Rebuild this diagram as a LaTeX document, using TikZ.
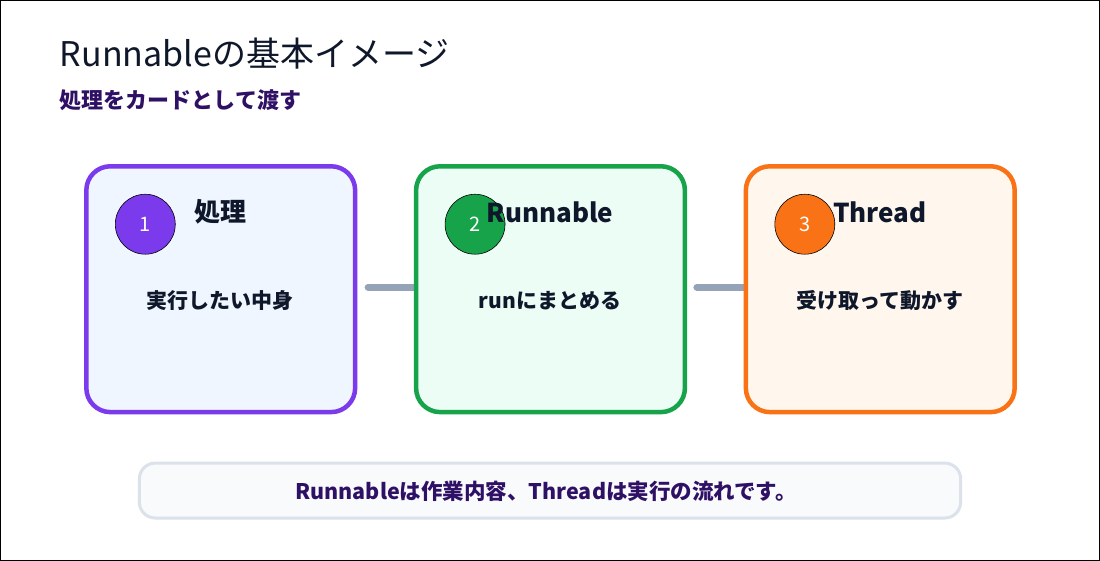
\documentclass[tikz,border=0pt]{standalone}
\usepackage{fontspec}
\setmainfont{Noto Sans CJK JP}
\begin{document}
\begin{tikzpicture}[x=1pt,y=-1pt,
 card/.style={line width=4.5pt,rounded corners=24pt},
 num/.style={circle,draw=black,line width=0.6pt,minimum size=60pt,inner sep=0pt,text=white,font=\fontsize{20}{20}\selectfont},
 ttl/.style={text=ink,font=\fontsize{26}{26}\selectfont\bfseries},
 sub/.style={text=ink,font=\fontsize{21}{21}\selectfont\bfseries},
 conn/.style={draw={rgb,255:red,148;green,163;blue,184},line width=7pt,line cap=round}]
\definecolor{ink}{HTML}{0F172A}
\definecolor{deep}{HTML}{2E1065}
\path[draw=black,line width=0.8pt,fill=white] (0,0) rectangle (1100,560);
\node[anchor=west,text=ink,font=\fontsize{34}{34}\selectfont] (title) at (56,53) {Runnableの基本イメージ};
\node[anchor=west,text=deep,font=\fontsize{22}{22}\selectfont\bfseries] (stitle) at (56,100) {処理をカードとして渡す};
\coordinate (c1) at (368,287); \coordinate (c2) at (416,287);
\coordinate (c3) at (697,287); \coordinate (c4) at (746,287);
\draw[conn] (c1) -- (c2); \draw[conn] (c3) -- (c4);
\draw[card,draw={rgb,255:red,124;green,58;blue,237},fill={rgb,255:red,239;green,246;blue,255}] (86,166) rectangle (355,412);
\draw[card,draw={rgb,255:red,22;green,163;blue,74},fill={rgb,255:red,236;green,253;blue,245}] (416,166) rectangle (685,412);
\draw[card,draw={rgb,255:red,249;green,115;blue,22},fill={rgb,255:red,255;green,247;blue,237}] (746,166) rectangle (1015,412);
\node[num,fill={rgb,255:red,124;green,58;blue,237}] (n1) at (145,224) {1};
\node[num,fill={rgb,255:red,22;green,163;blue,74}] (n2) at (475,224) {2};
\node[num,fill={rgb,255:red,249;green,115;blue,22}] (n3) at (805,224) {3};
\node[ttl] (t1) at (220,212) {処理};
\node[ttl] (t2) at (550,212) {Runnable};
\node[ttl] (t3) at (880,212) {Thread};
\node[sub] (s1) at (220,300) {実行したい中身};
\node[sub] (s2) at (550,300) {runにまとめる};
\node[sub] (s3) at (880,300) {受け取って動かす};
\draw[line width=3pt,rounded corners=16pt,draw={rgb,255:red,219;green,226;blue,234},fill={rgb,255:red,248;green,250;blue,252}] (139,463) rectangle (961,518);
\node[text=deep,font=\fontsize{21.5}{21.5}\selectfont\bfseries] (note) at (546,491) {Runnableは作業内容、Threadは実行の流れです。};
\end{tikzpicture}
\end{document}
